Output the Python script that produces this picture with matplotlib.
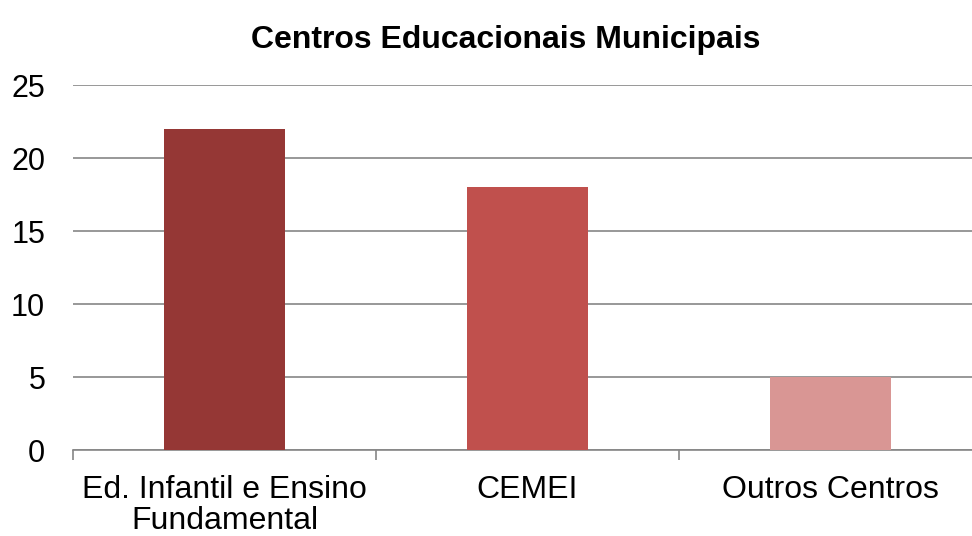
import matplotlib.pyplot as plt

plt.rcParams['font.family'] = ['Liberation Sans', 'DejaVu Sans']

# dados
categorias = ['Ed. Infantil e Ensino\nFundamental', 'CEMEI', 'Outros Centros']
valores = [22, 18, 5]
cores = ['#953735', '#C0504D', '#D99694']

fig = plt.figure(figsize=(9.72, 5.36), dpi=100)
ax = fig.add_axes([0.0751, 0.1604, 0.935, 0.681])

x = range(len(categorias))
ax.bar(x, valores, width=0.4, color=cores, zorder=3)

ax.set_xlim(-0.5, 2.5)
ax.set_ylim(0, 25)
ax.set_yticks([0, 5, 10, 15, 20, 25])
ax.yaxis.grid(True, color='#868686', linewidth=1.2, zorder=0)
ax.set_xticks([-0.5, 0.5, 1.5, 2.5], minor=False)
ax.set_xticklabels([])
ax.set_xticks(list(x), minor=True)
ax.set_xticklabels(categorias, minor=True, fontsize=23, linespacing=1.05)
ax.tick_params(axis='x', which='minor', length=0, pad=18)
ax.tick_params(axis='x', which='major', length=7, color='#868686', width=1.2)
ax.tick_params(axis='y', length=0, labelsize=22, pad=20)

for s in ['top', 'right', 'left']:
    ax.spines[s].set_visible(False)
ax.spines['bottom'].set_color('#868686')
ax.spines['bottom'].set_linewidth(1.2)

fig.text(0.52, 0.925, 'Centros Educacionais Municipais', ha='center', va='center',
         fontsize=23, fontweight='bold')

fig.savefig('out.png', dpi=100)
